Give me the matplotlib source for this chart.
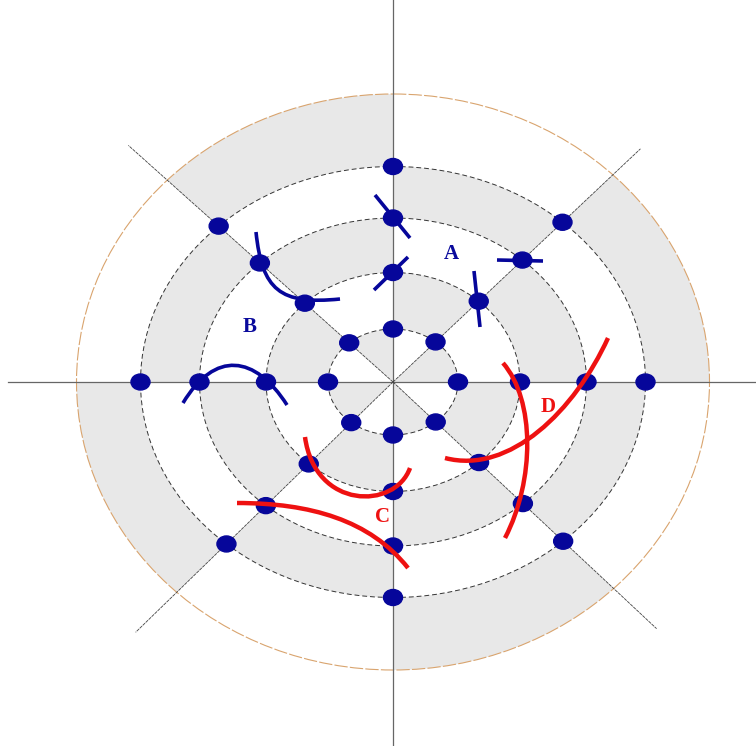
import numpy as np
import matplotlib.pyplot as plt
from matplotlib.path import Path
from matplotlib.patches import PathPatch, Ellipse

# Geometry (pixel units, y grows downward)
cx, cy = 393, 382
ring_a = [65, 127, 193.5, 252.5, 316.5]
ring_b = [53, 109.5, 164, 215.5, 288]
diag_angles = [43.3, 138.2, 224.2, 316.9]
diag_len = [340, 355, 359, 361]
sector_edges = [0, 43.3, 90, 138.2, 180, 224.2, 270, 316.9, 360]
dot_angles = [0, 43.3, 90, 138.2, 180, 224.2, 270, 316.9]

# Short blue marks through nodes (start, end)
blue_ticks = [[(375, 195), (410, 238)],
              [(408, 257), (374, 290)],
              [(474, 271), (480, 327)],
              [(497, 260), (543, 261)]]
# Cubic curves: 4 control points each
blue_curves = [[(256, 232), (262, 290), (280, 305), (340, 299)],
               [(183, 403), (215, 350), (255, 355), (287, 405)]]
red_curves = [[(305, 437), (315, 510), (395, 510), (410, 468)],
              [(237, 503), (310, 503), (370, 520), (408, 568)],
              [(503, 363), (535, 400), (535, 480), (505, 538)],
              [(445, 458), (510, 475), (575, 410), (608, 338)]]
labels = ['A', 'B', 'C', 'D']
label_pos = [(451, 254), (250, 327), (383, 517), (548, 407)]
label_col = ['#0a0a9c', '#0a0a9c', '#ee1111', '#ee1111']

BLUE = '#06069a'
RED = '#ee1111'
GRAY = '#e8e8e8'


def ellipse_pt(a, b, deg):
    t = np.radians(deg)
    r = a * b / np.sqrt((b * np.cos(t)) ** 2 + (a * np.sin(t)) ** 2)
    return cx + r * np.cos(t), cy - r * np.sin(t)


fig = plt.figure(figsize=(7.56, 7.46), dpi=100)
ax = fig.add_axes([0, 0, 1, 1])
ax.set_xlim(0, 756)
ax.set_ylim(746, 0)
ax.axis('off')

# checkerboard shading of ring sectors
for z in range(5):
    for s in range(8):
        if (s + z) % 2:
            continue
        th = np.linspace(sector_edges[s], sector_edges[s + 1], 60)
        ox, oy = ellipse_pt(ring_a[z], ring_b[z], th)
        if z == 0:
            ix, iy = np.array([cx]), np.array([cy])
        else:
            ix, iy = ellipse_pt(ring_a[z - 1], ring_b[z - 1], th[::-1])
        ax.fill(np.r_[ox, ix], np.r_[oy, iy], color=GRAY, lw=0, zorder=1)

# rings
for i in range(4):
    ax.add_patch(Ellipse((cx, cy), 2 * ring_a[i], 2 * ring_b[i], fill=False,
                         ec='#333333', lw=0.7, ls=(0, (5, 3)), zorder=2))
ax.add_patch(Ellipse((cx, cy), 2 * ring_a[4], 2 * ring_b[4], fill=False,
                     ec='#d9a46e', lw=0.8, ls=(0, (12, 2)), zorder=2))

# axes lines
ax.plot([8, 756], [cy, cy], color='#666666', lw=0.9, zorder=2)
ax.plot([cx, cx], [0, 746], color='#666666', lw=0.9, zorder=2)
for ang, ln in zip(diag_angles, diag_len):
    t = np.radians(ang)
    ax.plot([cx, cx + ln * np.cos(t)], [cy, cy - ln * np.sin(t)],
            color='#444444', lw=0.6, ls=(0, (4, 1)), zorder=2)

# curves
for p0, p1 in blue_ticks:
    ax.plot([p0[0], p1[0]], [p0[1], p1[1]], color=BLUE, lw=2.6,
            solid_capstyle='butt', zorder=4)
codes = [Path.MOVETO, Path.CURVE4, Path.CURVE4, Path.CURVE4]
for pts in blue_curves:
    ax.add_patch(PathPatch(Path(pts, codes), fill=False, ec=BLUE, lw=2.6,
                           capstyle='butt', zorder=4))
for pts in red_curves:
    ax.add_patch(PathPatch(Path(pts, codes), fill=False, ec=RED, lw=3.2,
                           capstyle='butt', zorder=5))

# nodes
for i in range(4):
    for ang in dot_angles:
        x, y = ellipse_pt(ring_a[i], ring_b[i], ang)
        ax.add_patch(Ellipse((x, y), 19, 16, color=BLUE, zorder=4.5))

for txt, (x, y), c in zip(labels, label_pos, label_col):
    ax.text(x, y, txt, color=c, fontsize=15, fontweight='bold',
            family='Liberation Serif', ha='center', va='center', zorder=6)

fig.savefig('out.png', dpi=100)
